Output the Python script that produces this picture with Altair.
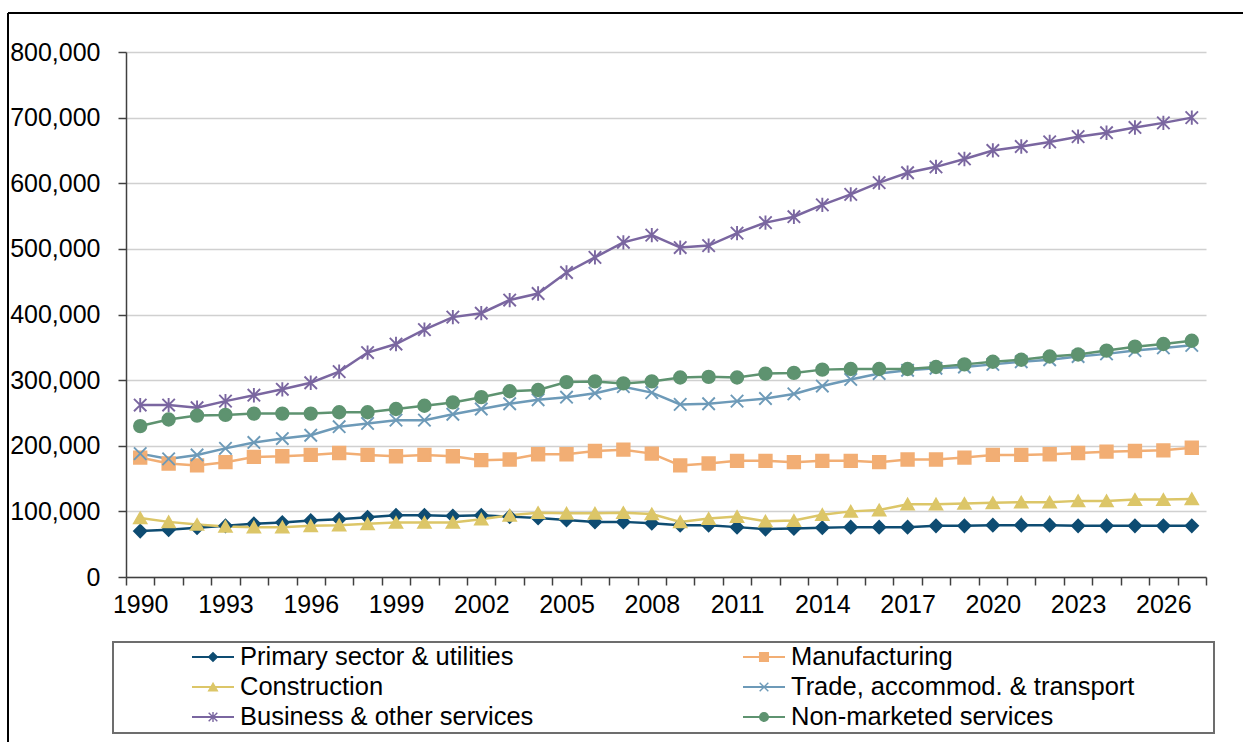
import altair as alt
import pandas as pd

years = list(range(1990, 2028))

series_names = [
    "Primary sector & utilities",
    "Manufacturing",
    "Construction",
    "Trade, accommod. & transport",
    "Business & other services",
    "Non-marketed services",
]

# values in thousands
primary = [70, 72, 75, 78, 81, 83, 86, 88, 91, 94,
           94, 93, 94, 92, 90, 87, 84, 84, 82, 79,
           79, 76, 73, 74, 75, 76, 76, 76, 78, 78,
           79, 79, 79, 78, 78, 78, 78, 78]
manufacturing = [182, 173, 170, 175, 183, 184, 186, 189, 186, 184,
                 186, 184, 178, 179, 187, 187, 192, 194, 188, 170,
                 173, 177, 177, 175, 177, 177, 175, 179, 179, 182,
                 186, 186, 187, 189, 191, 192, 193, 197]
construction = [90, 84, 80, 77, 76, 76, 78, 79, 81, 83,
                83, 83, 88, 94, 98, 97, 97, 98, 96, 84,
                89, 92, 85, 86, 95, 100, 102, 111, 111, 112,
                113, 114, 114, 116, 116, 118, 118, 119]
trade = [188, 180, 186, 196, 205, 211, 216, 229, 234, 239,
         239, 248, 256, 264, 270, 274, 280, 290, 281, 263,
         264, 268, 272, 279, 291, 301, 310, 315, 318, 320,
         324, 328, 331, 336, 340, 345, 349, 353]
business = [262, 262, 258, 268, 277, 286, 296, 313, 342, 355,
            377, 396, 402, 422, 432, 464, 487, 510, 521, 502,
            505, 524, 540, 549, 567, 583, 601, 616, 625, 637,
            650, 656, 663, 671, 677, 685, 692, 700]
nonmarketed = [230, 240, 246, 247, 249, 249, 249, 251, 251, 256,
               261, 266, 274, 283, 285, 297, 298, 295, 298, 304,
               305, 304, 310, 311, 316, 317, 317, 317, 320, 324,
               328, 331, 336, 339, 345, 351, 355, 360]

all_values = [primary, manufacturing, construction, trade, business, nonmarketed]

colors = ["#0e4c72", "#f2ae74", "#dcc668", "#6d9ab8", "#7a66a0", "#5e9370"]
shapes = [
    "diamond",
    "square",
    "triangle-up",
    "M-1,-1L1,1M-1,1L1,-1",
    "M-1,-1L1,1M-1,1L1,-1M0,-1.15L0,1.15",
    "circle",
]

legend_col = [0, 1, 0, 1, 0, 1]
legend_row = [0, 0, 1, 1, 2, 2]

records = []
for name, vals in zip(series_names, all_values):
    for yr, v in zip(years, vals):
        records.append({"year": yr, "value": v * 1000, "series": name})
df = pd.DataFrame(records)

legend_df = pd.DataFrame({"series": series_names, "col": legend_col, "row": legend_row})

FONT = "Liberation Sans"
FS = 25

color_scale = alt.Scale(domain=series_names, range=colors)
shape_scale = alt.Scale(domain=series_names, range=shapes)

tick_vals = [y - 0.5 for y in years] + [years[-1] + 0.5] + years[::3]

x_enc = alt.X(
    "year:Q",
    scale=alt.Scale(domain=[1989.5, 2027.5], nice=False, zero=False),
    axis=alt.Axis(
        values=tick_vals,
        title=None,
        grid=False,
        labelExpr="datum.value % 1 == 0 ? format(datum.value, 'd') : ''",
        labelOverlap=False,
        labelFlush=False,
        tickOpacity={"condition": {"test": "datum.value % 1 != 0", "value": 1}, "value": 0},
        tickSize=8,
        tickColor="#404040",
        tickWidth=1.5,
        domainColor="#404040",
        domainWidth=1.5,
        labelFont=FONT,
        labelFontSize=FS,
        labelColor="#000000",
        labelPadding=7,
    ),
)

y_enc = alt.Y(
    "value:Q",
    scale=alt.Scale(domain=[0, 800000], nice=False),
    axis=alt.Axis(
        values=list(range(0, 800001, 100000)),
        labelExpr="format(datum.value, ',')",
        title=None,
        grid=True,
        gridColor="#d0d0d0",
        gridWidth=1.5,
        tickSize=8,
        tickColor="#404040",
        tickWidth=1.5,
        domainColor="#404040",
        domainWidth=1.5,
        labelFont=FONT,
        labelFontSize=FS,
        labelColor="#000000",
        labelPadding=18,
        labelOverlap=False,
    ),
)

lines = alt.Chart(df).mark_line(strokeWidth=2.5).encode(
    x=x_enc,
    y=y_enc,
    color=alt.Color("series:N", scale=color_scale, legend=None),
)

points = alt.Chart(df).mark_point(filled=True, size=155, strokeWidth=1.9, opacity=1).encode(
    x=x_enc,
    y=y_enc,
    color=alt.Color("series:N", scale=color_scale, legend=None),
    stroke=alt.Stroke("series:N", scale=color_scale, legend=None),
    shape=alt.Shape("series:N", scale=shape_scale, legend=None),
)

main = alt.layer(lines, points)

lx = alt.X("col:Q", scale=alt.Scale(domain=[0, 1], range=[87, 638], nice=False, zero=False), axis=None)
ly = alt.Y("row:Q", scale=alt.Scale(domain=[0, 2], range=[605, 665], nice=False, zero=False), axis=None)

leg_lines = alt.Chart(legend_df).mark_rule(strokeWidth=2.2, xOffset=-21, x2Offset=21).encode(
    x=lx,
    x2="col:Q",
    y=ly,
    color=alt.Color("series:N", scale=color_scale, legend=None),
)

leg_points = alt.Chart(legend_df).mark_point(filled=True, size=75, strokeWidth=1.4, opacity=1).encode(
    x=lx,
    y=ly,
    color=alt.Color("series:N", scale=color_scale, legend=None),
    stroke=alt.Stroke("series:N", scale=color_scale, legend=None),
    shape=alt.Shape("series:N", scale=shape_scale, legend=None),
)

leg_text = alt.Chart(legend_df).mark_text(
    align="left", baseline="middle", dx=27, font=FONT, fontSize=25.5, color="#000000"
).encode(
    x=lx,
    y=ly,
    text="series:N",
)

legend_layer = alt.layer(leg_lines, leg_points, leg_text)

legend_box = alt.Chart(legend_df).mark_rect(
    fill="transparent", stroke="#6e6e6e", strokeWidth=1.5
).encode(
    x=alt.value(-13), x2=alt.value(1088), y=alt.value(590), y2=alt.value(681)
)

frame_left = alt.Chart(legend_df).mark_rule(color="#000000", strokeWidth=1.5).encode(
    x=alt.value(-118), y=alt.value(-39), y2=alt.value(700)
)
frame_top = alt.Chart(legend_df).mark_rule(color="#000000", strokeWidth=1.5).encode(
    x=alt.value(-118), x2=alt.value(1130), y=alt.value(-39)
)

chart = alt.layer(
    frame_left, frame_top, main, legend_box, legend_layer
).resolve_scale(
    x="independent", y="independent"
).properties(
    width=1080,
    height=525,
    padding={"left": 126, "top": 52, "right": 37, "bottom": 165},
    autosize=alt.AutoSizeParams(type="none"),
    background="white",
).configure_view(stroke=None)

chart.save("out.html", embed_options={"renderer": "svg", "actions": False})
